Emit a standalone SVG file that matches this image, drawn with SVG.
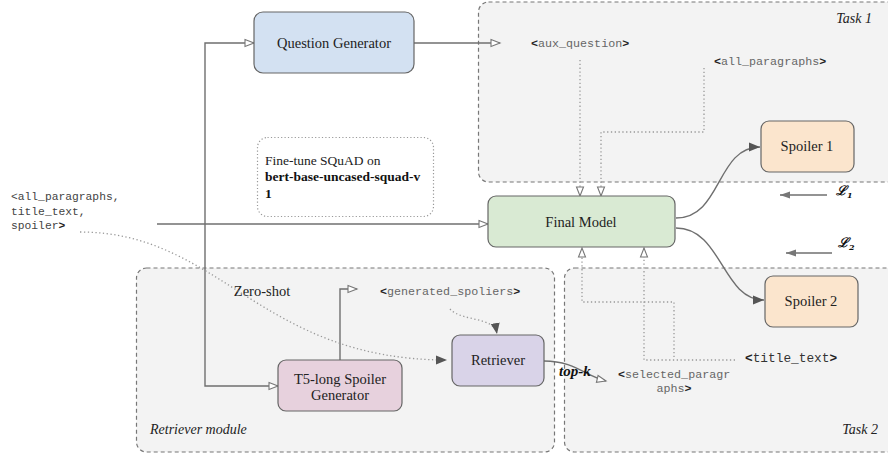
<svg xmlns="http://www.w3.org/2000/svg" width="888" height="454" viewBox="0 0 888 454">
<defs>
<style>
.grp{fill:#f3f3f3;stroke:#777;stroke-width:1.2;stroke-dasharray:4 3}
.node{stroke:#666;stroke-width:1.2}
.lbl{font-size:14.5px;fill:#222;text-anchor:middle}
.it{font-size:14px;font-style:italic;fill:#222}
.mono{font-size:11.7px;fill:#666}
.mono tspan.b{fill:#222;font-weight:bold}
.con{fill:none;stroke:#6f6f6f;stroke-width:1.4}
.dot{fill:none;stroke:#999;stroke-width:1.3;stroke-dasharray:1.3 2.5}
.loss{font-weight:bold;font-style:italic;font-size:13px;fill:#111}
</style>
<marker id="open" markerUnits="userSpaceOnUse" markerWidth="12" markerHeight="10" refX="10" refY="5" orient="auto">
<path d="M1,1.5 L10,5 L1,8.5 Z" fill="#fff" stroke="#777" stroke-width="1.1"/>
</marker>
<marker id="fill" markerUnits="userSpaceOnUse" markerWidth="12" markerHeight="10" refX="11" refY="5" orient="auto">
<path d="M0,0.5 L11,5 L0,9.5 Z" fill="#555"/>
</marker>
<marker id="fillL" markerUnits="userSpaceOnUse" markerWidth="12" markerHeight="10" refX="10" refY="5" orient="auto">
<path d="M0,1.5 L10,5 L0,8.5 Z" fill="#777"/>
</marker>
</defs>
<rect width="888" height="454" fill="#fff"/>

<g id="task1" font-family="Liberation Serif, DejaVu Serif, serif">
<rect class="grp" x="478.5" y="2" width="420" height="180" rx="10"/>
<text class="it" x="872" y="23" text-anchor="end">Task 1</text>
</g>
<g id="retriever-module" font-family="Liberation Serif, DejaVu Serif, serif">
<rect class="grp" x="136.5" y="268" width="418" height="184" rx="10"/>
<text class="it" x="150" y="434">Retriever module</text>
<text class="lbl" x="262" y="296">Zero-shot</text>
</g>
<g id="task2" font-family="Liberation Serif, DejaVu Serif, serif">
<rect class="grp" x="564.5" y="268" width="340" height="184" rx="10"/>
<text class="it" x="878" y="434" text-anchor="end">Task 2</text>
</g>

<g id="connectors">
<path class="con" d="M414,43 H500" marker-end="url(#open)"/>
<path class="con" d="M157,224 H488" marker-end="url(#open)"/>
<path class="con" d="M205,224 V43 H254" marker-end="url(#open)"/>
<path class="con" d="M205,224 V386 H278" marker-end="url(#open)"/>
<path class="con" d="M340,360 V289 H357" marker-end="url(#open)"/>
<path class="dot" d="M80,232 C220,232 260,360 447,360" marker-end="url(#fill)"/>
<path class="dot" d="M450,309 C462,322 494,316 497,334" marker-end="url(#fill)"/>
<path class="con" d="M544,361 C575,361 585,376 606,381" marker-end="url(#open)"/>
<path class="dot" d="M580,60 V196" marker-end="url(#open)"/>
<path class="dot" d="M704,68 V132 H601 V196" marker-end="url(#open)"/>
<path class="dot" d="M674,357 V302 H582 V248" marker-end="url(#open)"/>
<path class="dot" d="M735,360 H644 V248" marker-end="url(#open)"/>
<path class="con" d="M676,218 C722,218 716,147 760,147" marker-end="url(#fill)"/>
<path class="con" d="M676,228 C722,228 722,300 764,300" marker-end="url(#fill)"/>
<path class="con" d="M827,195 H780" stroke-width="1.2" marker-end="url(#fillL)"/>
<path class="con" d="M832,253 H786" stroke-width="1.2" marker-end="url(#fillL)"/>
</g>

<g id="question-generator" font-family="Liberation Serif, DejaVu Serif, serif">
<rect class="node" x="254" y="12" width="160" height="61" rx="9" fill="#d3e1f2"/>
<text class="lbl" x="334" y="48">Question Generator</text>
</g>
<g id="final-model" font-family="Liberation Serif, DejaVu Serif, serif">
<rect class="node" x="488" y="196" width="187" height="51" rx="8" fill="#d9ead3"/>
<text class="lbl" x="581" y="227">Final Model</text>
</g>
<g id="spoiler1" font-family="Liberation Serif, DejaVu Serif, serif">
<rect class="node" x="761" y="121" width="93" height="51" rx="8" fill="#fbe5cd"/>
<text class="lbl" x="807" y="151">Spoiler 1</text>
</g>
<g id="spoiler2" font-family="Liberation Serif, DejaVu Serif, serif">
<rect class="node" x="765" y="276" width="93" height="51" rx="8" fill="#fbe5cd"/>
<text class="lbl" x="811" y="306">Spoiler 2</text>
</g>
<g id="t5" font-family="Liberation Serif, DejaVu Serif, serif">
<rect class="node" x="278" y="360" width="124" height="51" rx="8" fill="#e7d1dd"/>
<text class="lbl" x="340" y="384">T5-long Spoiler</text>
<text class="lbl" x="340" y="400">Generator</text>
</g>
<g id="retriever" font-family="Liberation Serif, DejaVu Serif, serif">
<rect class="node" x="452" y="335" width="92" height="51" rx="8" fill="#d9d3e8"/>
<text class="lbl" x="498" y="365">Retriever</text>
</g>
<g id="finetune" font-family="Liberation Serif, DejaVu Serif, serif" font-size="13.5" fill="#222">
<rect x="257.5" y="137.5" width="176" height="79" rx="10" fill="#fff" stroke="#999" stroke-width="1.2" stroke-dasharray="1.2 2.2"/>
<text x="265" y="165">Fine-tune SQuAD on</text>
<text font-weight="bold" fill="#111" x="265" y="181">bert-base-uncased-squad-v</text>
<text font-weight="bold" fill="#111" x="265" y="198">1</text>
</g>

<g id="labels">
<g font-family="Liberation Mono, DejaVu Sans Mono, monospace">
<text class="mono" x="531" y="47"><tspan class="b">&lt;</tspan>aux_question<tspan class="b">&gt;</tspan></text>
<text class="mono" x="714" y="65"><tspan class="b">&lt;</tspan>all_paragraphs<tspan class="b">&gt;</tspan></text>
<text class="mono" x="380" y="295"><tspan class="b">&lt;</tspan>generated_spoliers<tspan class="b">&gt;</tspan></text>
<text class="mono" x="745" y="362" style="font-size:12.8px;fill:#333"><tspan class="b">&lt;</tspan>title_text<tspan class="b">&gt;</tspan></text>
<text class="mono" x="618" y="378"><tspan class="b">&lt;</tspan>selected_paragr</text>
<text class="mono" x="674" y="392" text-anchor="middle">aphs<tspan class="b">&gt;</tspan></text>
<text class="mono" x="11" y="200" style="font-size:11.3px;fill:#444">&lt;all_paragraphs,</text>
<text class="mono" x="11" y="215" style="font-size:11.3px;fill:#444">title_text,</text>
<text class="mono" x="11" y="229" style="font-size:11.3px;fill:#444">spoiler<tspan class="b">&gt;</tspan></text>
</g>
<text x="559" y="376" font-family="Liberation Serif, DejaVu Serif, serif" font-size="15" font-weight="bold" font-style="italic" fill="#111">top-k</text>
<g font-family="DejaVu Serif, serif">
<text class="loss" x="836" y="195">ℒ<tspan font-size="8" dy="3">1</tspan></text>
<text class="loss" x="838" y="247">ℒ<tspan font-size="8" dy="3">2</tspan></text>
</g>
</g>
</svg>
